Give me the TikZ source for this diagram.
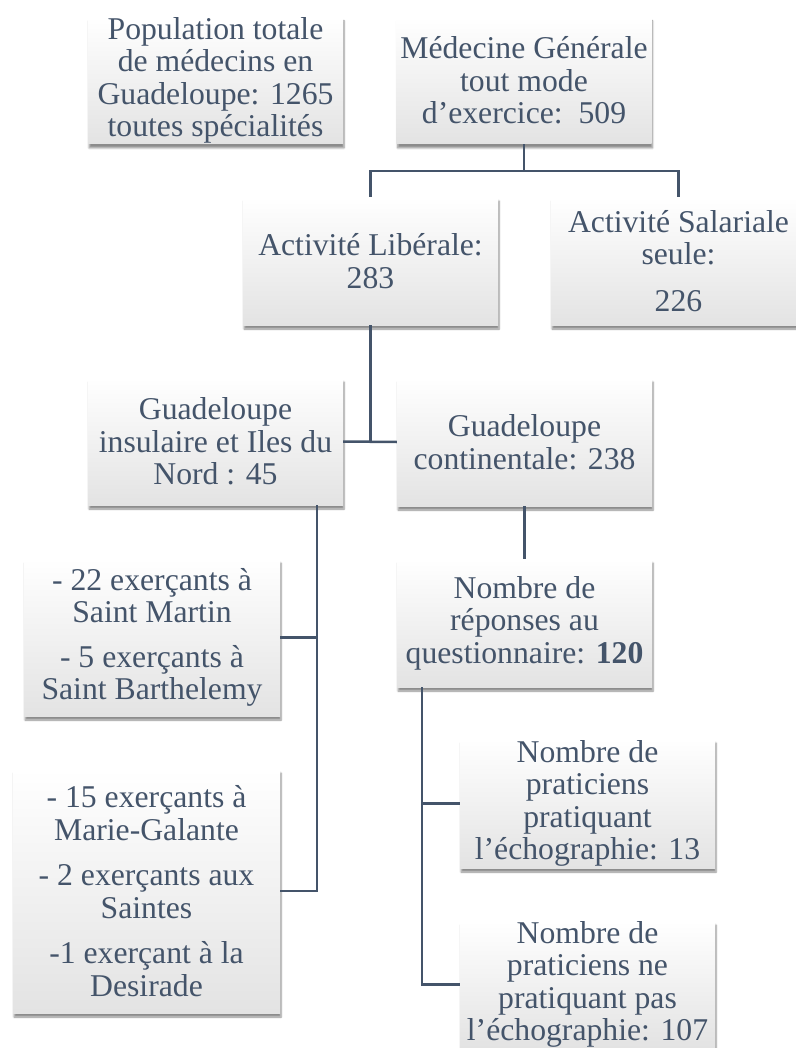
\documentclass[tikz,border=0pt]{standalone}
\usepackage{fontspec}
\setmainfont{Liberation Serif}
\usetikzlibrary{shadows.blur}
\definecolor{texte}{RGB}{68,84,106}

\begin{document}
\begin{tikzpicture}[x=1pt, y=-1pt,
    boite/.style={minimum width=255pt, minimum height=127pt, inner sep=0pt,
      align=center, text=texte, font=\fontsize{31.7}{32.5}\selectfont,
      top color=white, middle color=white, bottom color=gray!22,
      blur shadow={shadow xshift=1pt, shadow yshift=-4pt,
        shadow blur steps=6, shadow opacity=45}},
    trait/.style={draw=texte, line width=2.5pt}]
    \useasboundingbox (0,0) rectangle (795,1048);
    \node[boite] (pop) at (215.5,80.5) {Population totale\\de médecins en\\Guadeloupe: 1265\\toutes spécialités};
    \node[boite] (medgen) at (524,80.5) {Médecine Générale\\tout mode\\d’exercice:\ \ 509};
    \node[boite, minimum height=128pt] (lib) at (370.5,261) {Activité Libérale:\\283};
    \node[boite, minimum height=128pt] (sal) at (678.5,261) {Activité Salariale\\seule:\\[14pt]226};
    \node[boite] (ins) at (215.5,441.5) {Guadeloupe\\insulaire et Iles du\\Nord : 45};
    \node[boite, minimum height=128pt] (cont) at (524.5,442) {Guadeloupe\\continentale: 238};
    \node[boite, minimum height=128pt] (rep) at (524.5,623) {Nombre de\\réponses au\\questionnaire: \textbf{120}};
    \node[boite, minimum height=129pt] (avec) at (587.5,803.5) {Nombre de\\praticiens\\pratiquant\\l’échographie: 13};
    \node[boite] (sans) at (587.5,984.5) {Nombre de\\praticiens ne\\pratiquant pas\\l’échographie: 107};
    \node[boite, minimum width=256pt, minimum height=157pt] (nord) at (152,637.5) {- 22 exerçants à\\Saint Martin\\[12pt]- 5 exerçants à\\Saint Barthelemy};
    \node[boite, minimum width=267pt, minimum height=244pt] (sud) at (146.5,891) {- 15 exerçants à\\Marie-Galante\\[13pt]- 2 exerçants aux\\Saintes\\[13pt]-1 exerçant à la\\Desirade};
    \coordinate (pn) at (317,505);
    \coordinate (pr) at (422,687);
    \draw[trait] (medgen.south) -- ++(0,27);
    \draw[trait] (lib.north) -- ++(0,-26) -| (sal.north);
    \draw[trait] (lib.south) -- (lib.south |- ins.east);
    \draw[trait] (ins.east) -- (cont.west);
    \draw[trait] (cont.south) -- (rep.north);
    \draw[trait] (pn) |- (sud.east);
    \draw[trait] (nord.east) -- (nord.east -| pn);
    \draw[trait] (pr) |- (sans.west);
    \draw[trait] (avec.west) -- (avec.west -| pr);
\end{tikzpicture}
\end{document}
